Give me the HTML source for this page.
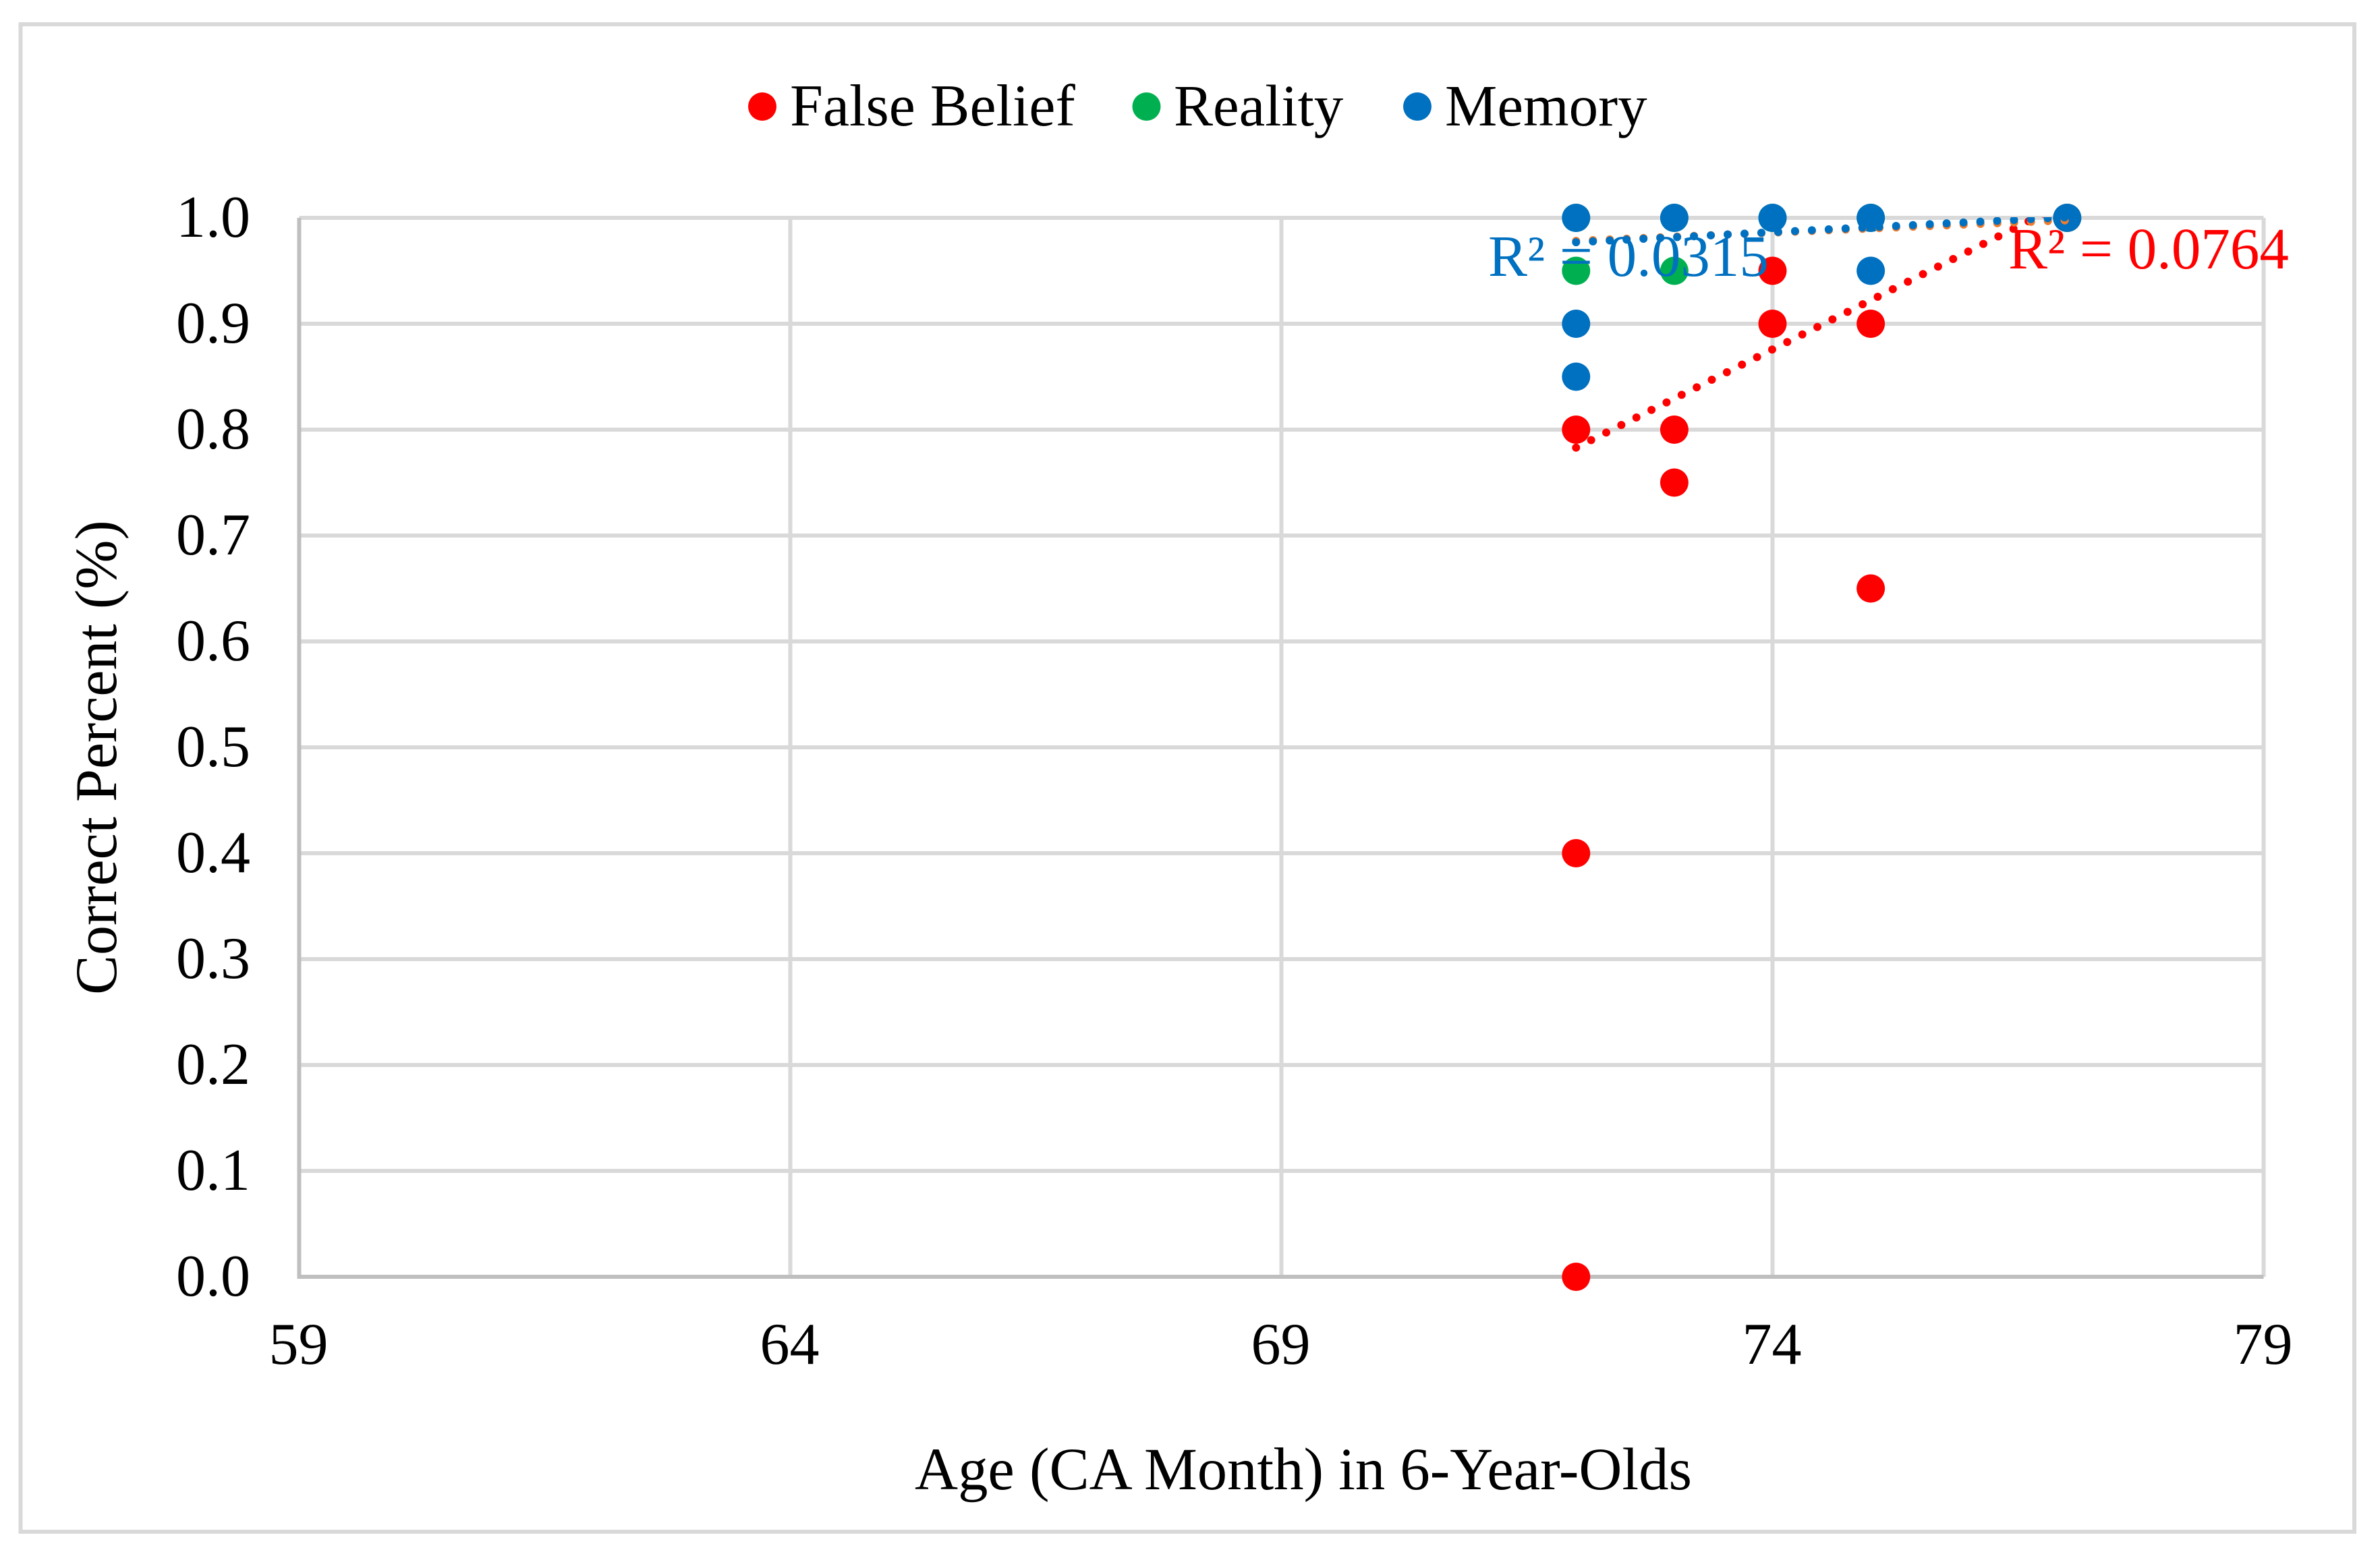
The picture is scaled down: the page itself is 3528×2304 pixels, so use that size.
<!DOCTYPE html>
<html lang="en">
<head>
<meta charset="utf-8">
<title>Correct Percent by Age in 6-Year-Olds</title>
<style>
  html, body { margin: 0; padding: 0; background: #ffffff; }
  body { width: 3528px; height: 2304px; overflow: hidden; }
  svg { display: block; }
  text { font-family: "Liberation Serif", "Times New Roman", serif; font-size: 88px; fill: #000000; }
</style>
</head>
<body>
<svg id="chart" xmlns="http://www.w3.org/2000/svg" width="3528" height="2304" viewBox="0 0 3528 2304">
  <defs>
    <clipPath id="plot-clip"><rect x="443" y="322" width="2913" height="1571"></rect></clipPath>
  </defs>
  <rect x="0" y="0" width="3528" height="2304" fill="#ffffff"></rect>
  <rect x="30.5" y="36" width="3459.5" height="2235" fill="#ffffff" stroke="#d9d9d9" stroke-width="6"></rect>
  <g id="grid"></g>
  <g id="axes"></g>
  <g id="markers"></g>
  <g id="trends" clip-path="url(#plot-clip)"></g>
  <g id="ticks"></g>
  <text x="1932" y="2208" text-anchor="middle" style="font-size:88.7px">Age (CA Month) in 6-Year-Olds</text>
  <text transform="translate(172 1123) rotate(-90)" text-anchor="middle">Correct Percent (%)</text>
  <g>
    <circle cx="1130" cy="158" r="21" fill="#ff0000"></circle>
    <text x="1171" y="186">False Belief</text>
    <circle cx="1699.5" cy="158" r="21" fill="#00b050"></circle>
    <text x="1740" y="186" style="font-size:87px">Reality</text>
    <circle cx="2101" cy="158" r="21" fill="#0070c0"></circle>
    <text x="2142" y="186" style="font-size:87px">Memory</text>
  </g>
  <text x="2206" y="409" style="fill:#0070c0;font-size:87px">R² = 0.0315</text>
  <text x="2977" y="398" style="fill:#ff0000;font-size:87px">R² = 0.0764</text>
</svg>
<script>
// Axis ranges and tick labels
const xMin = 59;
const xMax = 79;
const yMin = 0;
const yMax = 1;
const xTickValues = [59, 64, 69, 74, 79];
const yTickValues = [0, 0.1, 0.2, 0.3, 0.4, 0.5, 0.6, 0.7, 0.8, 0.9, 1.0];

// Series values (age in months, proportion correct)
const falseBeliefAges = [72, 72, 72, 73, 73, 74, 74, 75, 75, 77];
const falseBeliefScores = [0.8, 0.4, 0, 0.8, 0.75, 0.95, 0.9, 0.9, 0.65, 1];
const realityAges = [72, 72, 73, 73, 74, 75, 77];
const realityScores = [1, 0.95, 1, 0.95, 1, 1, 1];
const memoryAges = [72, 72, 72, 73, 74, 75, 75, 77];
const memoryScores = [1, 0.9, 0.85, 1, 1, 1, 0.95, 1];

// Trendline end values
const trendAges = [72, 77];
const falseBeliefTrend = [0.783, 1.015];
const realityTrend = [0.9783, 0.9977];
const memoryTrend = [0.977, 1.0006];

const svgNS = 'http://www.w3.org/2000/svg';
const plotLeft = 443.5, plotRight = 3355.5, plotTop = 323, plotBottom = 1893;
const xScale = function (v) { return plotLeft + (v - xMin) / (xMax - xMin) * (plotRight - plotLeft); };
const yScale = function (v) { return plotBottom - (v - yMin) / (yMax - yMin) * (plotBottom - plotTop); };

function make(tag, parent, props, text) {
  const el = document.createElementNS(svgNS, tag);
  Object.keys(props).forEach(function (k) { el.setAttribute(k, props[k]); });
  if (text !== undefined) el.textContent = text;
  document.getElementById(parent).appendChild(el);
  return el;
}

yTickValues.forEach(function (v) {
  if (v === yMin) return;
  const line = make('line', 'grid', { x1: plotLeft, x2: plotRight, y1: yScale(v), y2: yScale(v), stroke: '#d9d9d9', 'stroke-width': 6 });
  
  
});
xTickValues.forEach(function (v) {
  if (v === xMin) return;
  const line = make('line', 'grid', { x1: xScale(v), x2: xScale(v), y1: plotTop, y2: plotBottom, stroke: '#d9d9d9', 'stroke-width': 6 });
  
  
});

const yAxisLine = make('line', 'axes', { x1: plotLeft, x2: plotLeft, y1: plotTop, y2: plotBottom + 3, stroke: '#bfbfbf', 'stroke-width': 6 });


const xAxisLine = make('line', 'axes', { x1: plotLeft, x2: plotRight, y1: plotBottom, y2: plotBottom, stroke: '#bfbfbf', 'stroke-width': 6 });



yTickValues.forEach(function (v) {
  const label = make('text', 'ticks', { x: 371, y: yScale(v) + 28, 'text-anchor': 'end' }, v.toFixed(1));
  
  
});
xTickValues.forEach(function (v) {
  const label = make('text', 'ticks', { x: xScale(v) - 1, y: 2022, 'text-anchor': 'middle' }, String(v));
  
  
});

falseBeliefAges.forEach(function (age, i) {
  const dot = make('circle', 'markers', { cx: xScale(age), cy: yScale(falseBeliefScores[i]), r: 21, fill: '#ff0000' });
  
  
});
realityAges.forEach(function (age, i) {
  const dot = make('circle', 'markers', { cx: xScale(age), cy: yScale(realityScores[i]), r: 21, fill: '#00b050' });
  
  
});
memoryAges.forEach(function (age, i) {
  const dot = make('circle', 'markers', { cx: xScale(age), cy: yScale(memoryScores[i]), r: 21, fill: '#0070c0' });
  
  
});

function trendProps(values, color) {
  return {
    x1: xScale(trendAges[0]), y1: yScale(values[0]),
    x2: xScale(trendAges[1]), y2: yScale(values[1]),
    stroke: color, 'stroke-width': 12, 'stroke-linecap': 'round', 'stroke-dasharray': '0 25', fill: 'none'
  };
}
const trendFalseBelief = make('line', 'trends', trendProps(falseBeliefTrend, '#ff0000'));


const trendReality = make('line', 'trends', trendProps(realityTrend, '#ed7d31'));


const trendMemory = make('line', 'trends', trendProps(memoryTrend, '#0070c0'));


</script>
</body>
</html>
